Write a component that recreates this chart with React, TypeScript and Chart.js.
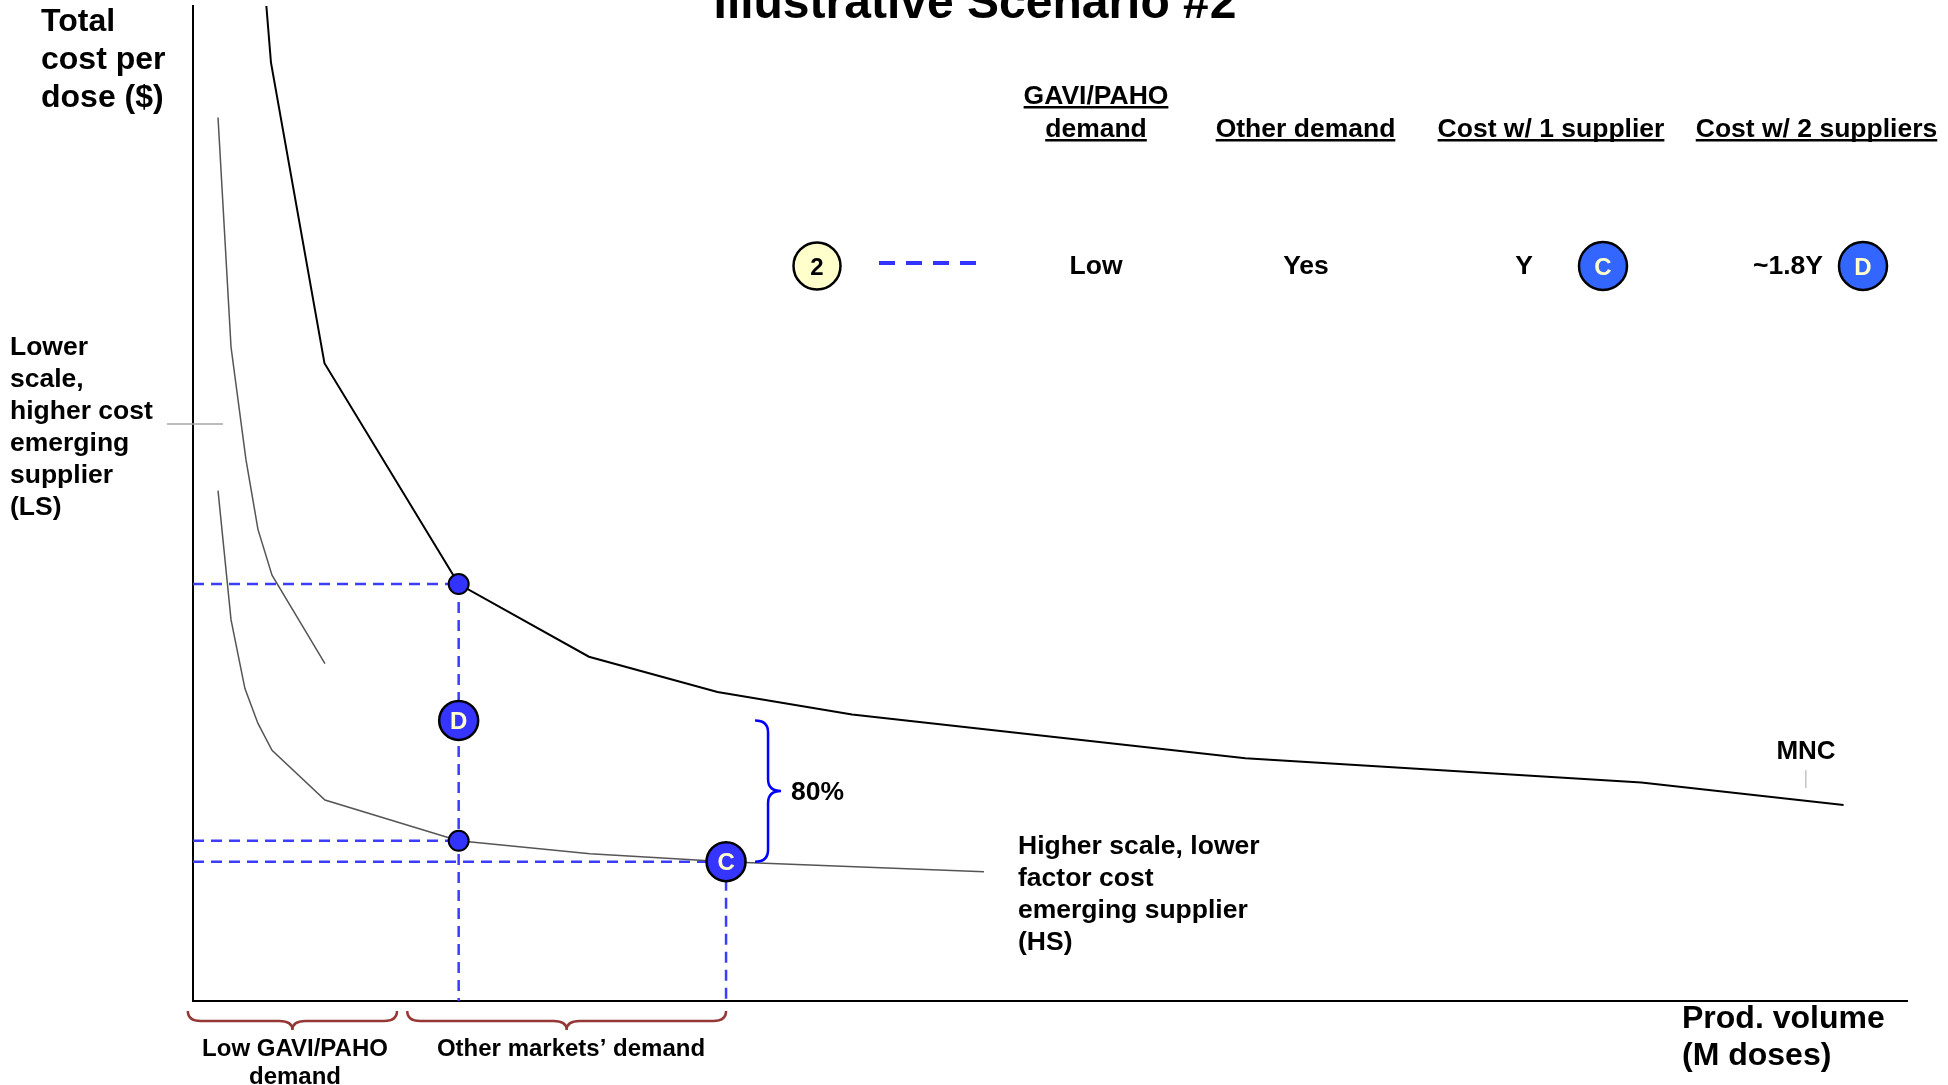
import React, { useEffect, useRef } from "react";
import { Chart, registerables } from "chart.js";

Chart.register(...registerables);

const W = 1948;
const H = 1085;

// Cost curves: production volume (index units) vs total cost per dose (index units)
const mncVolume = [4.28, 4.55, 7.67, 15.5, 23.1, 30.6, 38.45, 61.4, 84.5, 96.3];
const mncCost = [100, 94.3, 64.1, 41.9, 34.6, 31.05, 28.8, 24.4, 21.95, 19.7];

const lsVolume = [1.46, 2.22, 3.09, 3.79, 4.61, 7.7];
const lsCost = [88.8, 65.7, 54.4, 47.4, 42.8, 33.9];

const hsVolume = [1.46, 2.22, 3.03, 3.79, 4.61, 7.7, 15.5, 23.16, 31.1, 38.62, 46.15];
const hsCost = [51.3, 38.3, 31.4, 27.9, 25.2, 20.2, 16.1, 14.8, 14.0, 13.5, 13.0];

// Demand levels and resulting costs
const gaviDemand = 15.5;
const totalDemand = 31.1;
const mncCostAtGavi = 41.9;
const hsCostAtGavi = 16.1;
const costOneSupplier = 14.0;
const costTwoSuppliers = 28.2;

// Bottom brace ranges (volume)
const lowGaviRange = [-0.3, 11.9];
const otherMarketsRange = [12.5, 31.1];

// Scenario table
const tableHeaders = ["GAVI/PAHO|demand", "Other demand", "Cost w/ 1 supplier", "Cost w/ 2 suppliers"];
const tableRow = ["Low", "Yes", "Y", "~1.8Y"];

const FONT = '"Liberation Sans", Arial, Helvetica, sans-serif';
const bold = (px: number) => `bold ${px}px ${FONT}`;

function drawText(
  ctx: CanvasRenderingContext2D,
  str: string,
  x: number,
  y: number,
  size: number,
  align: CanvasTextAlign = "left",
  color = "#000",
  underline = false
) {
  ctx.save();
  ctx.font = bold(size);
  ctx.fillStyle = color;
  ctx.textAlign = align;
  ctx.textBaseline = "alphabetic";
  ctx.fillText(str, x, y);
  if (underline) {
    const w = ctx.measureText(str).width;
    const x0 = align === "center" ? x - w / 2 : align === "right" ? x - w : x;
    ctx.fillRect(x0, y + 2, w, 2.5);
  }
  ctx.restore();
}

function badge(
  ctx: CanvasRenderingContext2D,
  x: number,
  y: number,
  r: number,
  fill: string,
  label: string,
  labelColor: string
) {
  ctx.save();
  ctx.beginPath();
  ctx.arc(x, y, r, 0, Math.PI * 2);
  ctx.fillStyle = fill;
  ctx.fill();
  ctx.lineWidth = 2.5;
  ctx.strokeStyle = "#000";
  ctx.stroke();
  ctx.restore();
  drawText(ctx, label, x, y + 8.6, 24, "center", labelColor);
}

const annotations = {
  id: "annotations",
  afterDatasetsDraw(chart: any) {
    const ctx: CanvasRenderingContext2D = chart.ctx;
    const xs = chart.scales.x;
    const ys = chart.scales.y;

    // letters inside the scenario markers
    const meta = chart.getDatasetMeta(chart.data.datasets.findIndex((d: any) => d.label === "Scenarios"));
    const letters = ["C", "D"];
    meta.data.forEach((pt: any, i: number) => {
      drawText(ctx, letters[i], pt.x, pt.y + 8.6, 24, "center", "#ffffcc");
    });

    // blue brace between the two cost levels
    const cx = xs.getPixelForValue(totalDemand);
    const yTop = ys.getPixelForValue(costTwoSuppliers);
    const yBot = ys.getPixelForValue(costOneSupplier);
    const yMid = (yTop + yBot) / 2;
    const xe = cx + 29;
    const xSpine = cx + 42;
    const xt = cx + 55;
    const r = 12;
    ctx.save();
    ctx.strokeStyle = "#0000ff";
    ctx.lineWidth = 2.5;
    ctx.beginPath();
    ctx.moveTo(xe, yTop);
    ctx.quadraticCurveTo(xSpine, yTop, xSpine, yTop + r);
    ctx.lineTo(xSpine, yMid - r);
    ctx.quadraticCurveTo(xSpine, yMid, xt, yMid);
    ctx.quadraticCurveTo(xSpine, yMid, xSpine, yMid + r);
    ctx.lineTo(xSpine, yBot - r);
    ctx.quadraticCurveTo(xSpine, yBot, xe, yBot);
    ctx.stroke();
    ctx.restore();

    // brown braces under the volume axis
    const axisY = chart.chartArea.bottom;
    const braceH = (a: number, b: number) => {
      const x0 = xs.getPixelForValue(a);
      const x1 = xs.getPixelForValue(b);
      const mid = (x0 + x1) / 2;
      const top = axisY + 10;
      const ym = axisY + 20;
      const tip = axisY + 29;
      const rr = 13;
      ctx.beginPath();
      ctx.moveTo(x0, top);
      ctx.quadraticCurveTo(x0, ym, x0 + rr, ym);
      ctx.lineTo(mid - rr, ym);
      ctx.quadraticCurveTo(mid, ym, mid, tip);
      ctx.quadraticCurveTo(mid, ym, mid + rr, ym);
      ctx.lineTo(x1 - rr, ym);
      ctx.quadraticCurveTo(x1, ym, x1, top);
      ctx.stroke();
    };
    ctx.save();
    ctx.strokeStyle = "#953735";
    ctx.lineWidth = 2.5;
    braceH(lowGaviRange[0], lowGaviRange[1]);
    braceH(otherMarketsRange[0], otherMarketsRange[1]);
    ctx.restore();

    // small leader ticks
    ctx.save();
    ctx.strokeStyle = "#a6a6a6";
    ctx.lineWidth = 1.5;
    ctx.beginPath();
    const lsY = ys.getPixelForValue(58);
    ctx.moveTo(xs.getPixelForValue(-1.52), lsY);
    ctx.lineTo(xs.getPixelForValue(1.75), lsY);
    ctx.stroke();
    ctx.lineWidth = 1;
    ctx.beginPath();
    const mx = xs.getPixelForValue(94.1);
    ctx.moveTo(mx, ys.getPixelForValue(23.2));
    ctx.lineTo(mx, ys.getPixelForValue(21.4));
    ctx.stroke();
    ctx.restore();
  },
  afterDraw(chart: any) {
    const ctx: CanvasRenderingContext2D = chart.ctx;

    // title
    drawText(ctx, "Illustrative Scenario #2", 975, 18, 48, "center");

    // y-axis title
    ["Total", "cost per", "dose ($)"].forEach((s, i) => drawText(ctx, s, 41, 31 + i * 38, 32));

    // x-axis title
    drawText(ctx, "Prod. volume", 1682, 1028, 32);
    drawText(ctx, "(M doses)", 1682, 1065, 32);

    // curve labels
    ["Lower", "scale,", "higher cost", "emerging", "supplier", "(LS)"].forEach((s, i) =>
      drawText(ctx, s, 10, 355 + i * 32, 26.5)
    );
    ["Higher scale, lower", "factor cost", "emerging supplier", "(HS)"].forEach((s, i) =>
      drawText(ctx, s, 1018, 854 + i * 32, 26.5)
    );
    drawText(ctx, "MNC", 1806, 759, 26, "center");
    drawText(ctx, "80%", 791, 800, 26.5);

    // demand labels under the axis
    drawText(ctx, "Low GAVI/PAHO", 295, 1055.5, 24, "center");
    drawText(ctx, "demand", 295, 1084, 24, "center");
    drawText(ctx, "Other markets\u2019 demand", 571, 1056, 24, "center");

    // scenario table headers
    const colX = [1096, 1305.5, 1551, 1816.5];
    tableHeaders.forEach((h, i) => {
      const lines = h.split("|");
      lines.forEach((s, j) => {
        const y = 137 - (lines.length - 1 - j) * 33;
        drawText(ctx, s, colX[i], y, 26.5, "center", "#000", true);
      });
    });

    // scenario row
    badge(ctx, 817, 266, 23.5, "#ffffcc", "2", "#000");
    ctx.save();
    ctx.strokeStyle = "#3333ff";
    ctx.lineWidth = 4;
    ctx.setLineDash([16, 11]);
    ctx.beginPath();
    ctx.moveTo(879, 263);
    ctx.lineTo(980, 263);
    ctx.stroke();
    ctx.restore();
    const rowX = [1096, 1306, 1524, 1788];
    tableRow.forEach((s, i) => drawText(ctx, s, rowX[i], 274, 26.5, "center"));
    badge(ctx, 1603, 266, 24, "#3366ff", "C", "#ffffcc");
    badge(ctx, 1863, 266, 24, "#3366ff", "D", "#ffffcc");
  },
};

const toPoints = (xv: number[], yv: number[]) => xv.map((x, i) => ({ x, y: yv[i] }));

const DASH_BLUE = "#3c3cff";
const dashed = (pts: { x: number; y: number }[]) => ({
  data: pts,
  showLine: true,
  borderColor: DASH_BLUE,
  borderWidth: 2.5,
  borderDash: [11, 7],
  pointRadius: 0,
  order: 5,
});

export default function App() {
  const ref = useRef<HTMLCanvasElement>(null);

  useEffect(() => {
    const chart = new Chart(ref.current as HTMLCanvasElement, {
      type: "scatter",
      data: {
        datasets: [
          {
            label: "Scenarios",
            data: [
              { x: totalDemand, y: costOneSupplier },
              { x: gaviDemand, y: costTwoSuppliers },
            ],
            pointRadius: 19.5,
            pointBackgroundColor: "#3535ff",
            pointBorderColor: "#000",
            pointBorderWidth: 2.5,
            order: 0,
          } as any,
          {
            label: "Operating points",
            data: [
              { x: gaviDemand, y: mncCostAtGavi },
              { x: gaviDemand, y: hsCostAtGavi },
            ],
            pointRadius: 10,
            pointBackgroundColor: "#3333ff",
            pointBorderColor: "#000",
            pointBorderWidth: 2,
            order: 1,
          },
          {
            label: "MNC",
            data: toPoints(mncVolume, mncCost),
            showLine: true,
            borderColor: "#000",
            borderWidth: 2,
            pointRadius: 0,
            order: 2,
          },
          {
            label: "LS",
            data: toPoints(lsVolume, lsCost),
            showLine: true,
            borderColor: "#555",
            borderWidth: 1.5,
            pointRadius: 0,
            order: 3,
          },
          {
            label: "HS",
            data: toPoints(hsVolume, hsCost),
            showLine: true,
            borderColor: "#555",
            borderWidth: 1.5,
            pointRadius: 0,
            order: 3,
          },
          dashed([{ x: 0, y: mncCostAtGavi }, { x: gaviDemand, y: mncCostAtGavi }]),
          dashed([{ x: gaviDemand, y: mncCostAtGavi }, { x: gaviDemand, y: 0 }]),
          dashed([{ x: 0, y: hsCostAtGavi }, { x: gaviDemand, y: hsCostAtGavi }]),
          dashed([{ x: 0, y: costOneSupplier }, { x: totalDemand, y: costOneSupplier }]),
          dashed([{ x: totalDemand, y: costOneSupplier }, { x: totalDemand, y: 0 }]),
        ] as any,
      },
      options: {
        responsive: false,
        maintainAspectRatio: false,
        devicePixelRatio: 1,
        animation: false,
        events: [],
        layout: { autoPadding: false, padding: { left: 193, right: 41, top: 6, bottom: 84 } },
        plugins: { legend: { display: false }, tooltip: { enabled: false } },
        scales: {
          x: {
            type: "linear",
            min: 0,
            max: 100,
            grid: { display: false, drawTicks: false },
            ticks: { display: false },
            border: { display: true, color: "#000", width: 2 },
          },
          y: {
            type: "linear",
            min: 0,
            max: 100,
            grid: { display: false, drawTicks: false },
            ticks: { display: false },
            border: { display: true, color: "#000", width: 2 },
          },
        },
      } as any,
      plugins: [annotations],
    });
    return () => chart.destroy();
  }, []);

  return (
    <div style={{ position: "fixed", left: 0, top: 0, width: W, height: H, background: "#fff" }}>
      <canvas ref={ref} width={W} height={H} style={{ display: "block", width: W, height: H }} />
    </div>
  );
}
